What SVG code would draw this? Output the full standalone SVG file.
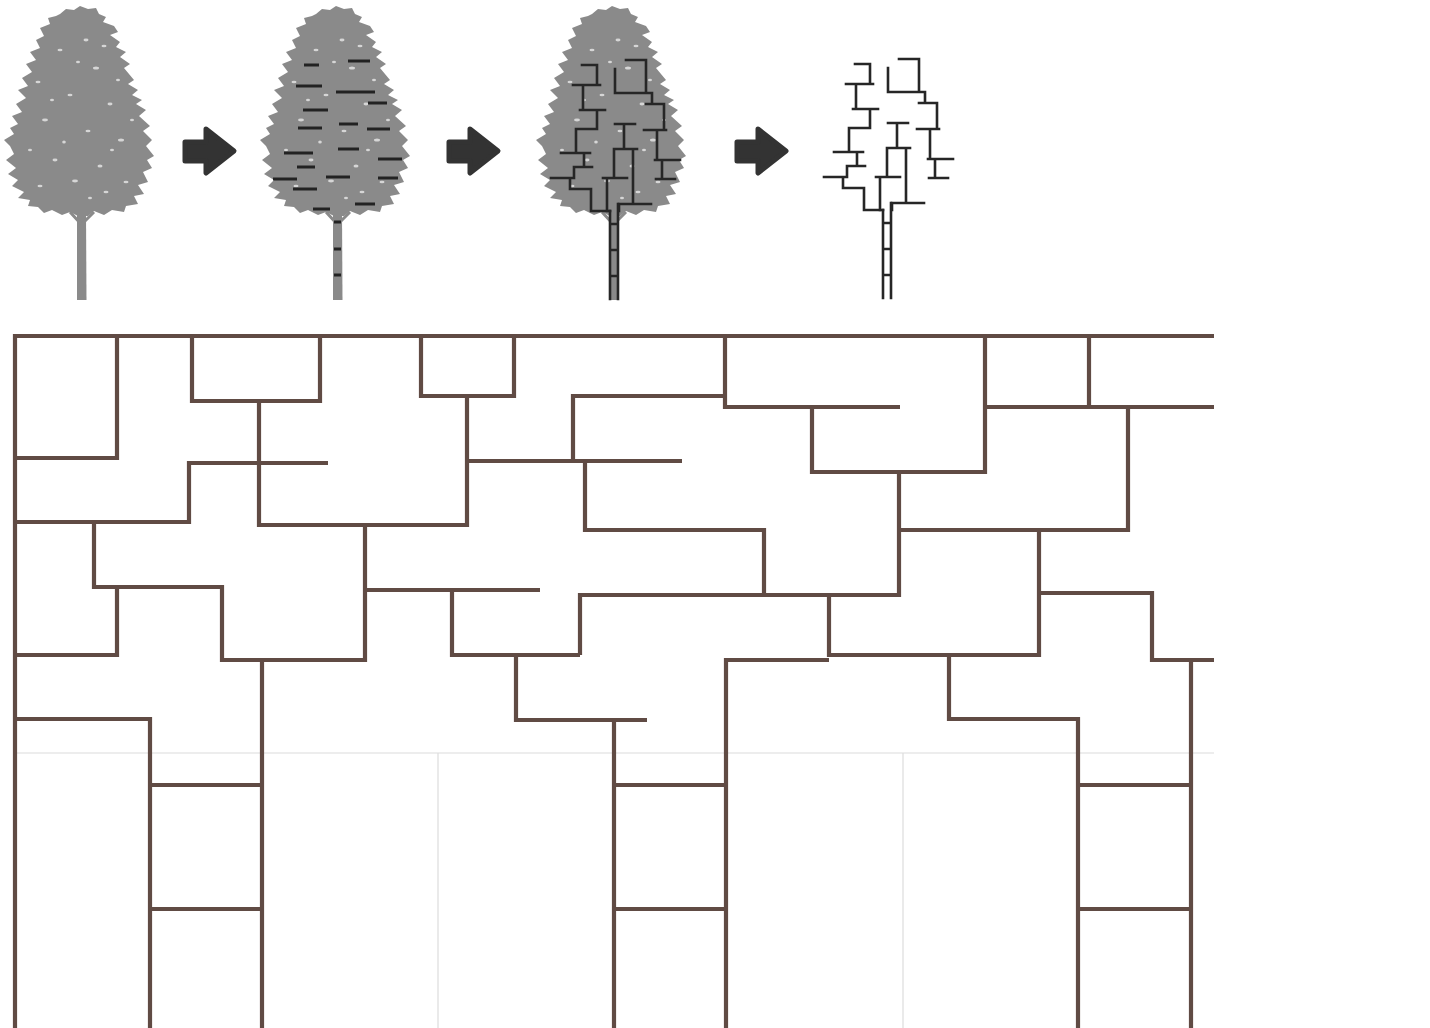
<svg xmlns="http://www.w3.org/2000/svg" xmlns:xlink="http://www.w3.org/1999/xlink" width="1430" height="1028" viewBox="0 0 1430 1028">
  <style>
    .canopy { fill: #8a8a8a; }
    .speck { fill: #ffffff; opacity: 0.65; }
    .dash { stroke: #222222; stroke-width: 3; fill: none; }
    .branch { stroke: #262626; stroke-width: 2.6; fill: none; stroke-linecap: square; }
    .arrow { fill: #333333; stroke: #333333; stroke-width: 5; stroke-linejoin: round; }
    .grid { stroke: #dcdcdc; stroke-width: 1.2; fill: none; }
    .wall { stroke: #604b44; stroke-width: 4.2; fill: none; stroke-linejoin: miter; stroke-linecap: butt; }
  </style>
  <defs>
    <!-- grey tree silhouette: tiered, ragged crown and a trunk with a small fork -->
    <g id="tree-silhouette">
      <path class="canopy" d="M60,14 L66,9 L74,10 L80,6 L88,9 L96,8 L99,14 L106,17 L103,22 L114,26 L118,32 L110,35 L120,42 L116,47 L126,52 L120,57 L130,64 L124,68 L134,80 L128,84 L138,90 L132,95 L142,100 L136,104 L146,110 L139,116 L150,126 L143,131 L152,140 L146,146 L154,156 L147,160 L152,168 L143,172 L148,182 L138,185 L144,194 L134,196 L138,204 L126,206 L124,212 L112,210 L104,215 L94,211 L88,216 L78,216 L70,212 L62,215 L52,210 L44,213 L38,207 L28,206 L30,200 L18,198 L24,192 L12,186 L18,180 L8,174 L16,168 L6,160 L14,154 L10,146 L4,140 L14,134 L10,128 L18,124 L12,116 L22,112 L16,104 L26,98 L18,90 L28,86 L22,78 L32,72 L26,64 L36,60 L30,52 L40,48 L36,40 L44,36 L40,28 L50,24 L48,18 L56,16 Z"/>
      <path class="canopy" d="M77,212 L86,212 L86.5,300 L77,300 Z"/>
      <path d="M81,224 L70,212 M82,224 L94,212" stroke="#8a8a8a" stroke-width="3" fill="none"/>
      <ellipse class="speck" cx="60" cy="50" rx="2.5" ry="1.3"/>
      <ellipse class="speck" cx="96" cy="68" rx="3" ry="1.5"/>
      <ellipse class="speck" cx="70" cy="95" rx="2.5" ry="1.3"/>
      <ellipse class="speck" cx="110" cy="104" rx="2.5" ry="1.4"/>
      <ellipse class="speck" cx="45" cy="120" rx="3" ry="1.4"/>
      <ellipse class="speck" cx="88" cy="131" rx="2.5" ry="1.3"/>
      <ellipse class="speck" cx="121" cy="140" rx="3" ry="1.5"/>
      <ellipse class="speck" cx="55" cy="160" rx="2.5" ry="1.4"/>
      <ellipse class="speck" cx="100" cy="166" rx="2.5" ry="1.5"/>
      <ellipse class="speck" cx="75" cy="181" rx="3" ry="1.4"/>
      <ellipse class="speck" cx="40" cy="186" rx="2.5" ry="1.3"/>
      <ellipse class="speck" cx="126" cy="182" rx="2.5" ry="1.3"/>
      <ellipse class="speck" cx="86" cy="40" rx="2.5" ry="1.4"/>
      <ellipse class="speck" cx="64" cy="142" rx="1.8" ry="1.6"/>
      <ellipse class="speck" cx="106" cy="192" rx="2.5" ry="1.3"/>
      <ellipse class="speck" cx="38" cy="82" rx="2.5" ry="1.3"/>
      <ellipse class="speck" cx="104" cy="46" rx="2.5" ry="1.3"/>
      <ellipse class="speck" cx="132" cy="120" rx="2" ry="1.3"/>
      <ellipse class="speck" cx="78" cy="62" rx="2" ry="1.2"/>
      <ellipse class="speck" cx="118" cy="80" rx="2" ry="1.2"/>
      <ellipse class="speck" cx="52" cy="100" rx="2" ry="1.2"/>
      <ellipse class="speck" cx="30" cy="150" rx="2" ry="1.2"/>
      <ellipse class="speck" cx="112" cy="150" rx="2" ry="1.2"/>
      <ellipse class="speck" cx="90" cy="198" rx="2" ry="1.2"/>
    </g>
    <!-- orthogonal branch skeleton, trunk drawn as a double line -->
    <g id="branch-skeleton">
      <path class="branch" d="M855,64 H870 V84 M846,84 H873 M856,84 V109 M853,109 H878 M870,109 V128 H849 V152 M834,152 H863 M857,152 V166 M848,166 H865 M847,166 V177 M824,177 H847 M843,177 V188 H864 V210 H883"/>
      <path class="branch" d="M888,68 V92 H925 M899,59 H919 V92 M925,92 V103 M919,103 H937 V129 M917,129 H939 M930,129 V159 M928,159 H953 M935,159 V178 M929,178 H948"/>
      <path class="branch" d="M888,123 H908 M897,123 V148 M887,148 H910 M887,148 V177 M876,177 H900 M880,177 V210 M906,148 V203 M892,203 H924 M892,203 V210"/>
      <path class="branch" d="M883,210 V298 M891,203 V298 M883,223 H891 M883,249 H891 M883,275 H891"/>
    </g>
    <path id="block-arrow" class="arrow" d="M185,142 L206,142 L206,129 L234,151 L206,173 L206,161 L185,161 Z"/>
  </defs>

  <!-- stage 1: plain tree -->
  <g id="stage-1">
    <use href="#tree-silhouette"/>
  </g>

  <!-- stage 2: tree with branch marks -->
  <g id="stage-2">
    <use href="#tree-silhouette" transform="translate(256,0)"/>
    <path class="dash" d="M304,65 H319 M348,61 H370 M296,86 H322 M336,92 H375 M368,103 H387 M303,110 H328 M339,124 H358 M298,128 H322 M367,129 H390 M284,153 H313 M338,149 H359 M378,159 H402 M297,167 H315 M273,179 H297 M326,177 H350 M378,178 H398 M293,189 H317 M355,204 H375 M313,209 H330 M334,222 H341 M334,249 H341 M334,275 H341"/>
  </g>

  <!-- stage 3: tree with skeleton overlaid -->
  <g id="stage-3">
    <use href="#tree-silhouette" transform="translate(532,0)"/>
    <use href="#branch-skeleton" transform="translate(-273,1)"/>
  </g>

  <!-- stage 4: skeleton alone -->
  <g id="stage-4">
    <use href="#branch-skeleton"/>
  </g>

  <!-- arrows between stages -->
  <g id="connectors">
    <use href="#block-arrow"/>
    <use href="#block-arrow" transform="translate(264,0)"/>
    <use href="#block-arrow" transform="translate(552,0)"/>
  </g>

  <!-- faint reference grid -->
  <g id="grid">
    <path class="grid" d="M15,753 H1214 M438,753 V1028 M903,753 V1028"/>
  </g>

  <!-- branching wall layout -->
  <g id="branch-grid">
    <path class="wall" d="M15,1028 V336 H1214"/>
    <path class="wall" d="M117,336 V458 H15"/>
    <path class="wall" d="M192,336 V401 H320 V336"/>
    <path class="wall" d="M259,401 V525 H467 V396"/>
    <path class="wall" d="M421,336 V396 H514 V336"/>
    <path class="wall" d="M15,522 H189 V463 H328"/>
    <path class="wall" d="M467,461 H682"/>
    <path class="wall" d="M573,461 V396 H725"/>
    <path class="wall" d="M725,336 V407 H900"/>
    <path class="wall" d="M585,461 V530 H764 V595"/>
    <path class="wall" d="M580,655 V595 H899 V472"/>
    <path class="wall" d="M812,407 V472 H985 V336"/>
    <path class="wall" d="M899,530 H1128 V407"/>
    <path class="wall" d="M985,407 H1214"/>
    <path class="wall" d="M1089,336 V407"/>
    <path class="wall" d="M94,522 V587 H222 V660 H365 V525"/>
    <path class="wall" d="M365,590 H540"/>
    <path class="wall" d="M117,587 V655 H15"/>
    <path class="wall" d="M452,590 V655 H580"/>
    <path class="wall" d="M516,655 V720 H647"/>
    <path class="wall" d="M1039,530 V655 H829 V595"/>
    <path class="wall" d="M1039,593 H1152 V660 H1214"/>
    <path class="wall" d="M829,660 H726 V1028"/>
    <path class="wall" d="M949,655 V719 H1078 V1028"/>
    <path class="wall" d="M1191,660 V1028"/>
    <path class="wall" d="M614,720 V1028"/>
    <path class="wall" d="M614,785 H726 M614,909 H726"/>
    <path class="wall" d="M262,660 V1028"/>
    <path class="wall" d="M15,719 H150 V1028"/>
    <path class="wall" d="M150,785 H262 M150,909 H262"/>
    <path class="wall" d="M1078,785 H1191 M1078,909 H1191"/>
  </g>
</svg>
